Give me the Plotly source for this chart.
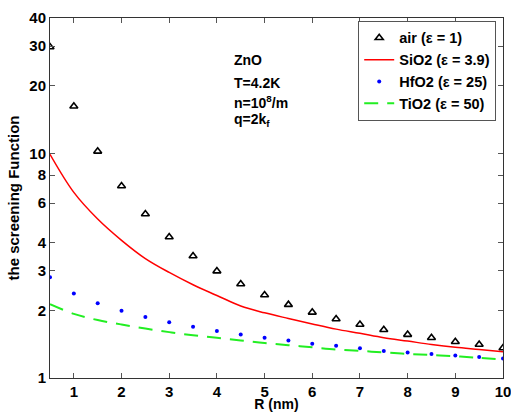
import math
import plotly.graph_objects as go

R = [0.5, 1.0, 1.5, 2.0, 2.5, 3.0, 3.5, 4.0, 4.5, 5.0, 5.5, 6.0, 6.5, 7.0, 7.5, 8.0, 8.5, 9.0, 9.5, 10.0]
air = [29.7, 16.2, 10.2, 7.15, 5.37, 4.24, 3.49, 2.99, 2.62, 2.34, 2.12, 1.96, 1.83, 1.73, 1.64, 1.56, 1.51, 1.45, 1.41, 1.36]
sio2 = [9.9, 6.7, 5.1, 4.1, 3.4, 2.95, 2.6, 2.33, 2.09, 1.95, 1.84, 1.74, 1.65, 1.58, 1.51, 1.46, 1.41, 1.37, 1.34, 1.31]
hfo2 = [2.81, 2.38, 2.15, 1.99, 1.87, 1.77, 1.69, 1.62, 1.56, 1.51, 1.47, 1.42, 1.39, 1.355, 1.32, 1.30, 1.28, 1.26, 1.24, 1.22]
tio2 = [2.13, 1.93, 1.81, 1.73, 1.66, 1.60, 1.55, 1.51, 1.47, 1.43, 1.40, 1.37, 1.34, 1.32, 1.30, 1.28, 1.265, 1.25, 1.23, 1.21]

y_ticks = [1, 2, 3, 4, 6, 8, 10, 20, 30, 40]
x_ticks = [1, 2, 3, 4, 5, 6, 7, 8, 9, 10]
names = ["air (\u03b5 = 1)", "SiO2 (\u03b5 = 3.9)", "HfO2 (\u03b5 = 25)", "TiO2 (\u03b5 = 50)"]
notes = ["ZnO", "T=4.2K", "n=10<sup>8</sup>/m", "q=2k<sub>f</sub>"]
note_y = [26.0, 20.6, 16.9, 14.0]
note_x = 4.31

FONT = "Liberation Sans, Arial, sans-serif"

fig = go.Figure()
fig.add_trace(go.Scatter(x=R, y=air, mode="markers", name=names[0],
                         marker=dict(symbol="triangle-up-open", size=7, color="black",
                                     line=dict(width=1.6, color="black"))))
fig.add_trace(go.Scatter(x=R, y=sio2, mode="lines", name=names[1], line_shape="spline",
                         line=dict(color="red", width=1.5)))
fig.add_trace(go.Scatter(x=R, y=hfo2, mode="markers", name=names[2],
                         marker=dict(symbol="circle", size=4, color="blue")))
fig.add_trace(go.Scatter(x=R, y=tio2, mode="lines", name=names[3], line_shape="spline",
                         line=dict(color="#22ee22", width=2, dash="14px,9px")))

for t, yy in zip(notes, note_y):
    fig.add_annotation(x=note_x, y=math.log10(yy), xref="x", yref="y", yanchor="middle", text=t,
                       showarrow=False, xanchor="left",
                       font=dict(size=14, family=FONT, color="black", weight="bold"))

axis_common = dict(showline=True, linecolor="#333", linewidth=1, mirror="ticks",
                   ticks="inside", ticklen=5, tickcolor="#555", showgrid=False, zeroline=False,
                   automargin=False, ticklabeloverflow="allow",
                   tickfont=dict(size=15, family=FONT, color="black", weight="bold"))

fig.update_xaxes(range=[0.5, 10], tickvals=x_ticks, ticktext=[str(v) for v in x_ticks],
                 title=dict(text="R (nm)", standoff=3,
                            font=dict(size=14, family=FONT, color="black", weight="bold")),
                 **axis_common)
fig.update_yaxes(type="log", range=[0, 1.60206], tickvals=y_ticks,
                 ticktext=[str(v) for v in y_ticks],
                 title=dict(text="the screening Function", standoff=6,
                            font=dict(size=15, family=FONT, color="black", weight="bold")),
                 **axis_common)

fig.update_layout(
    width=511, height=412,
    margin=dict(l=50, r=8, t=18, b=34),
    plot_bgcolor="white", paper_bgcolor="white",
    font=dict(family=FONT, size=13, color="black"),
    legend=dict(x=0.985, y=0.992, xanchor="right", yanchor="top",
                bgcolor="white", bordercolor="#555", borderwidth=1,
                font=dict(size=14.5, family=FONT, color="black", weight="bold"),
                tracegroupgap=0, itemwidth=30),
)

fig.write_html("out.html", config={"displayModeBar": False},
               post_script="document.body.style.margin='0';document.body.style.overflow='hidden';")
